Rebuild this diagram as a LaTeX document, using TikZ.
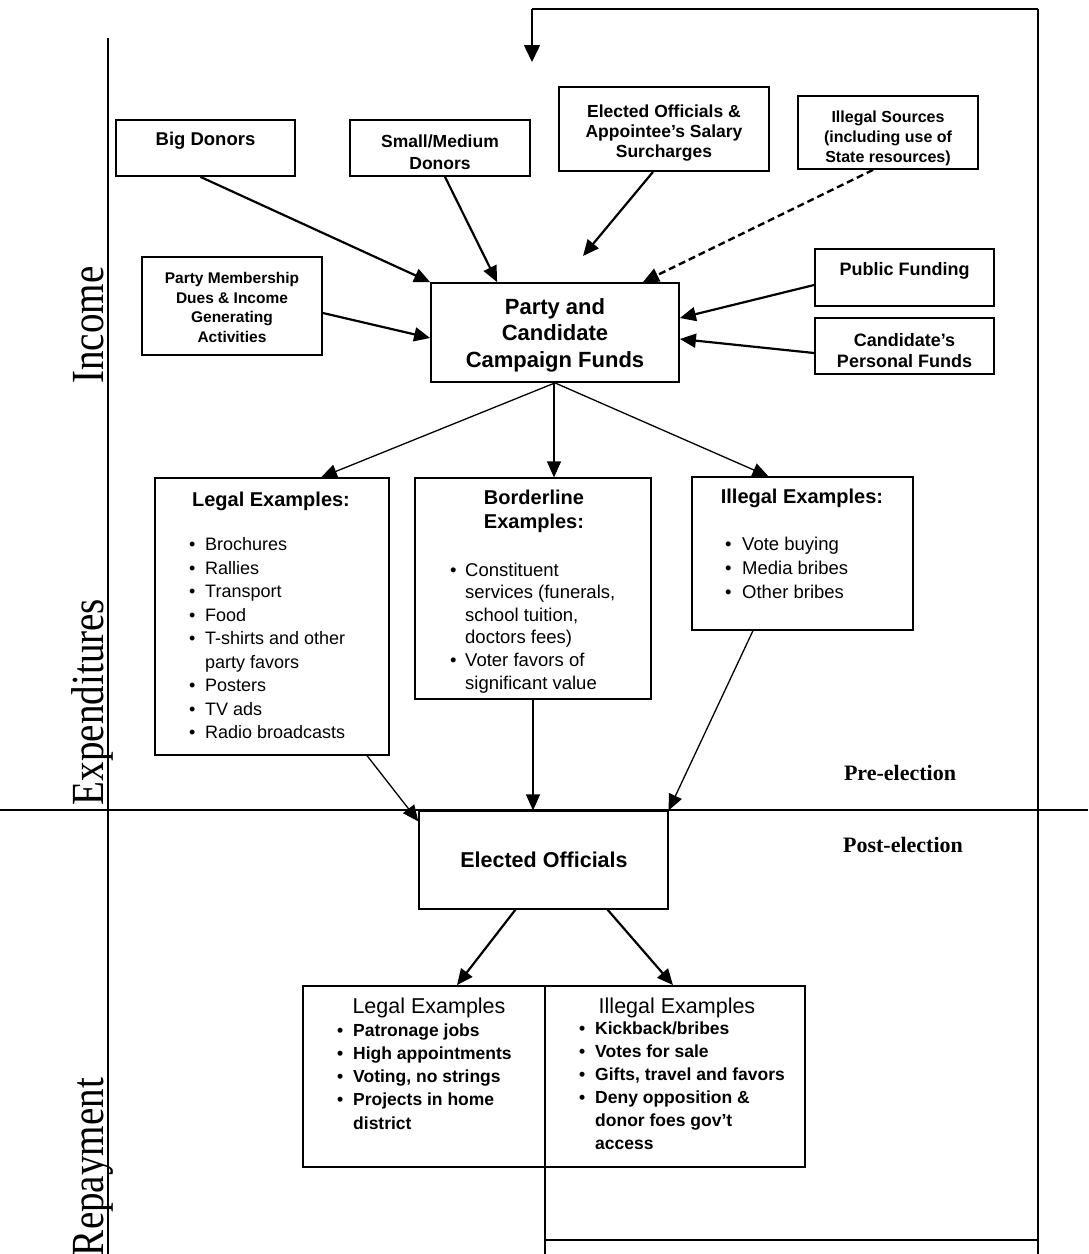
\documentclass[tikz,border=0pt]{standalone}
\usepackage{fontspec}
\usepackage{graphicx}
\setmainfont{Liberation Sans}
\newfontfamily\tms{Liberation Serif}
\usetikzlibrary{arrows.meta}
\newcommand{\bl}[1]{\makebox[#1][l]{\textbullet}}
\tikzset{
  box/.style={draw, line width=1.8pt, inner sep=0pt},
  thinbox/.style={draw, line width=1.2pt, inner sep=0pt},
  txt/.style={inner sep=0pt, align=center},
  lst/.style={inner sep=0pt, align=left, anchor=north west},
  axlabel/.style={inner sep=0pt, rotate=90, anchor=base, font=\tms\fontsize{46}{46}\selectfont},
  period/.style={inner sep=0pt, font=\tms\bfseries\fontsize{22}{24}\selectfont},
  fatarrow/.style={line width=2.2pt, -{Triangle[length=16pt,width=14pt]}},
  slimarrow/.style={line width=1.3pt, -{Triangle[length=16pt,width=14pt]}},
  dasharrow/.style={line width=2.4pt, dash pattern=on 7pt off 4pt, -{Triangle[length=16pt,width=14pt]}},
  frame/.style={line width=2.2pt},
  thinframe/.style={line width=1.5pt},
}
\begin{document}
\begin{tikzpicture}[x=1pt,y=-1pt]
\useasboundingbox (0,0) rectangle (1088,1254);

% ---- frame lines and section labels
\coordinate (axtop) at (108,38);
\coordinate (axbot) at (108,1254);
\coordinate (divl) at (0,810);
\coordinate (divr) at (1088,810);
\draw[frame] (axtop) -- (axbot);
\draw[thinframe] (divl) -- (divr);
\node[axlabel] (inc) at (103,325) {\scalebox{0.85}[1]{Income}};
\node[axlabel] (exp) at (103,702) {\scalebox{0.85}[1]{Expenditures}};
\node[axlabel] (rep) at (103,1167) {\scalebox{0.85}[1]{Repayment}};
\node[period] (pre) at (900,773) {Pre-election};
\node[period] (post) at (903,845) {Post-election};

% ---- income boxes
\node[box, minimum width=179pt, minimum height=56pt] (bigd) at (205.5,148) {};
\node[txt, font=\bfseries\fontsize{18.5}{22}\selectfont] (bigdt) at (205.5,141) {Big Donors};

\node[box, minimum width=180pt, minimum height=56pt] (small) at (440,148) {};
\node[txt, font=\bfseries\fontsize{17.5}{22}\selectfont] (smallt) at (440,152) {Small/Medium\\Donors};

\node[box, minimum width=210pt, minimum height=84pt] (salary) at (664,129) {};
\node[txt, font=\bfseries\fontsize{17.5}{20}\selectfont] (salaryt) at (664,133) {Elected Officials \&\\Appointee’s Salary\\Surcharges};

\node[box, minimum width=180pt, minimum height=73pt] (illsrc) at (888,132.5) {};
\node[txt, font=\bfseries\fontsize{16}{20}\selectfont] (illsrct) at (888,138) {Illegal Sources\\(including use of\\State resources)};

\node[box, minimum width=180pt, minimum height=98pt] (member) at (232,306) {};
\node[txt, font=\bfseries\fontsize{15.5}{19.7}\selectfont] (membert) at (232,307.5) {Party Membership\\Dues \& Income\\Generating\\Activities};

\node[box, minimum width=248pt, minimum height=99pt] (party) at (555,332.5) {};
\node[txt, font=\bfseries\fontsize{22}{26.5}\selectfont] (partyt) at (555,335) {Party and\\Candidate\\Campaign Funds};

\node[box, minimum width=179pt, minimum height=57pt] (public) at (904.5,277.5) {};
\node[txt, font=\bfseries\fontsize{18}{21}\selectfont] (publict) at (904.5,271) {Public Funding};

\node[box, minimum width=179pt, minimum height=56pt] (cand) at (904.5,346) {};
\node[txt, font=\bfseries\fontsize{18}{21}\selectfont] (candt) at (904.5,351) {Candidate’s\\Personal Funds};

% ---- income arrows
\coordinate (salend) at (583,256);
\draw[fatarrow] ([xshift=-5pt]bigd.south) -- (party.north west);
\draw[fatarrow] ([xshift=5pt]small.south) -- ([xshift=67pt]party.north west);
\draw[fatarrow] ([xshift=-11pt]salary.south) -- (salend);
\draw[dasharrow] ([xshift=-15pt]illsrc.south) -- ([xshift=-37pt]party.north east);
\draw[fatarrow] ([yshift=-7pt]member.east) -- ([yshift=-5.5pt]party.west);
\draw[fatarrow] ([yshift=-7.5pt]public.west) -- ([yshift=14.5pt]party.east);
\draw[fatarrow] ([yshift=-7pt]cand.west) -- ([yshift=-6.5pt]party.east);

% ---- expenditure boxes
\node[thinbox, minimum width=234pt, minimum height=277pt] (legal) at (272,616.5) {};
\node[txt, font=\bfseries\fontsize{20}{24}\selectfont] (legalt) at (271,501) {Legal Examples:};
\node[lst, font=\fontsize{18}{23.5}\selectfont] (legall) at (189,537.5)
  {\bl{16pt}Brochures\\ \bl{16pt}Rallies\\ \bl{16pt}Transport\\ \bl{16pt}Food\\
   \bl{16pt}T-shirts and other\\ \hspace*{16pt}party favors\\ \bl{16pt}Posters\\
   \bl{16pt}TV ads\\ \bl{16pt}Radio broadcasts};

\node[thinbox, minimum width=236pt, minimum height=221pt] (border) at (533,588.5) {};
\node[txt, font=\bfseries\fontsize{20}{24}\selectfont] (bordert) at (534,511) {Borderline\\Examples:};
\node[lst, font=\fontsize{18.5}{22.6}\selectfont] (borderl) at (450,562.5)
  {\bl{15pt}Constituent\\ \hspace*{15pt}services (funerals,\\ \hspace*{15pt}school tuition,\\
   \hspace*{15pt}doctors fees)\\ \bl{15pt}Voter favors of\\ \hspace*{15pt}significant value};

\node[thinbox, minimum width=221pt, minimum height=153pt] (illex) at (802.5,553.5) {};
\node[txt, font=\bfseries\fontsize{20}{24}\selectfont] (illext) at (802,498) {Illegal Examples:};
\node[lst, font=\fontsize{18.5}{24}\selectfont] (illexl) at (725,536.5)
  {\bl{17pt}Vote buying\\ \bl{17pt}Media bribes\\ \bl{17pt}Other bribes};

% ---- expenditure arrows
\draw[slimarrow] (party.south) -- ([xshift=49pt]legal.north);
\draw[slimarrow] ([xshift=-1pt]party.south) -- ([xshift=-1pt]party.south |- border.north);
\draw[slimarrow] (party.south) -- ([xshift=-34pt]illex.north);

% ---- elected officials
\node[thinbox, minimum width=249pt, minimum height=98pt] (elected) at (543.5,860) {};
\node[txt, font=\bfseries\fontsize{21.5}{24}\selectfont] (electedt) at (544,860) {Elected Officials};

\draw[slimarrow] ([xshift=95pt]legal.south) -- ([yshift=-11pt]elected.north west);
\draw[slimarrow] (border.south) -- (border.south |- elected.north);
\draw[slimarrow] ([xshift=-49.5pt]illex.south) -- (elected.north east);

% ---- repayment
\node[box, minimum width=502pt, minimum height=181pt] (repay) at (554,1076.5) {};
\coordinate (divtop) at (545,986);
\coordinate (divbot) at (545,1254);
\draw[line width=1.5pt] (divtop) -- (divbot);
\node[txt, font=\fontsize{21.5}{24}\selectfont] (replt) at (429,1008) {Legal Examples};
\node[txt, font=\fontsize{21.5}{24}\selectfont] (reprt) at (677,1008) {Illegal Examples};
\node[lst, font=\bfseries\fontsize{17.5}{23.2}\selectfont] (repll) at (337,1023.5)
  {\bl{16pt}Patronage jobs\\ \bl{16pt}High appointments\\ \bl{16pt}Voting, no strings\\
   \bl{16pt}Projects in home\\ \hspace*{16pt}district};
\node[lst, font=\bfseries\fontsize{17.5}{23}\selectfont] (reprl) at (579,1021.5)
  {\bl{16pt}Kickback/bribes\\ \bl{16pt}Votes for sale\\ \bl{16pt}Gifts, travel and favors\\
   \bl{16pt}Deny opposition \&\\ \hspace*{16pt}donor foes gov’t\\ \hspace*{16pt}access};

\draw[fatarrow] ([xshift=-28pt]elected.south) -- ([xshift=-97pt]repay.north);
\draw[fatarrow] ([xshift=64pt]elected.south) -- ([xshift=119pt]repay.north);

% ---- feedback loop
\coordinate (fb1) at (545,1240);
\coordinate (fb2) at (1038,1240);
\coordinate (fb3) at (1038,9);
\coordinate (fb4) at (532,9);
\coordinate (fbbot) at (1038,1254);
\coordinate (fbend) at (532,62);
\draw[frame] (fb1) -- (fb2);
\draw[frame] (fbbot) -- (fb3);
\draw[thinframe] (fb3) -- (fb4);
\draw[line width=1.5pt, -{Triangle[length=17pt,width=16pt]}] (fb4) -- (fbend);
\end{tikzpicture}
\end{document}
